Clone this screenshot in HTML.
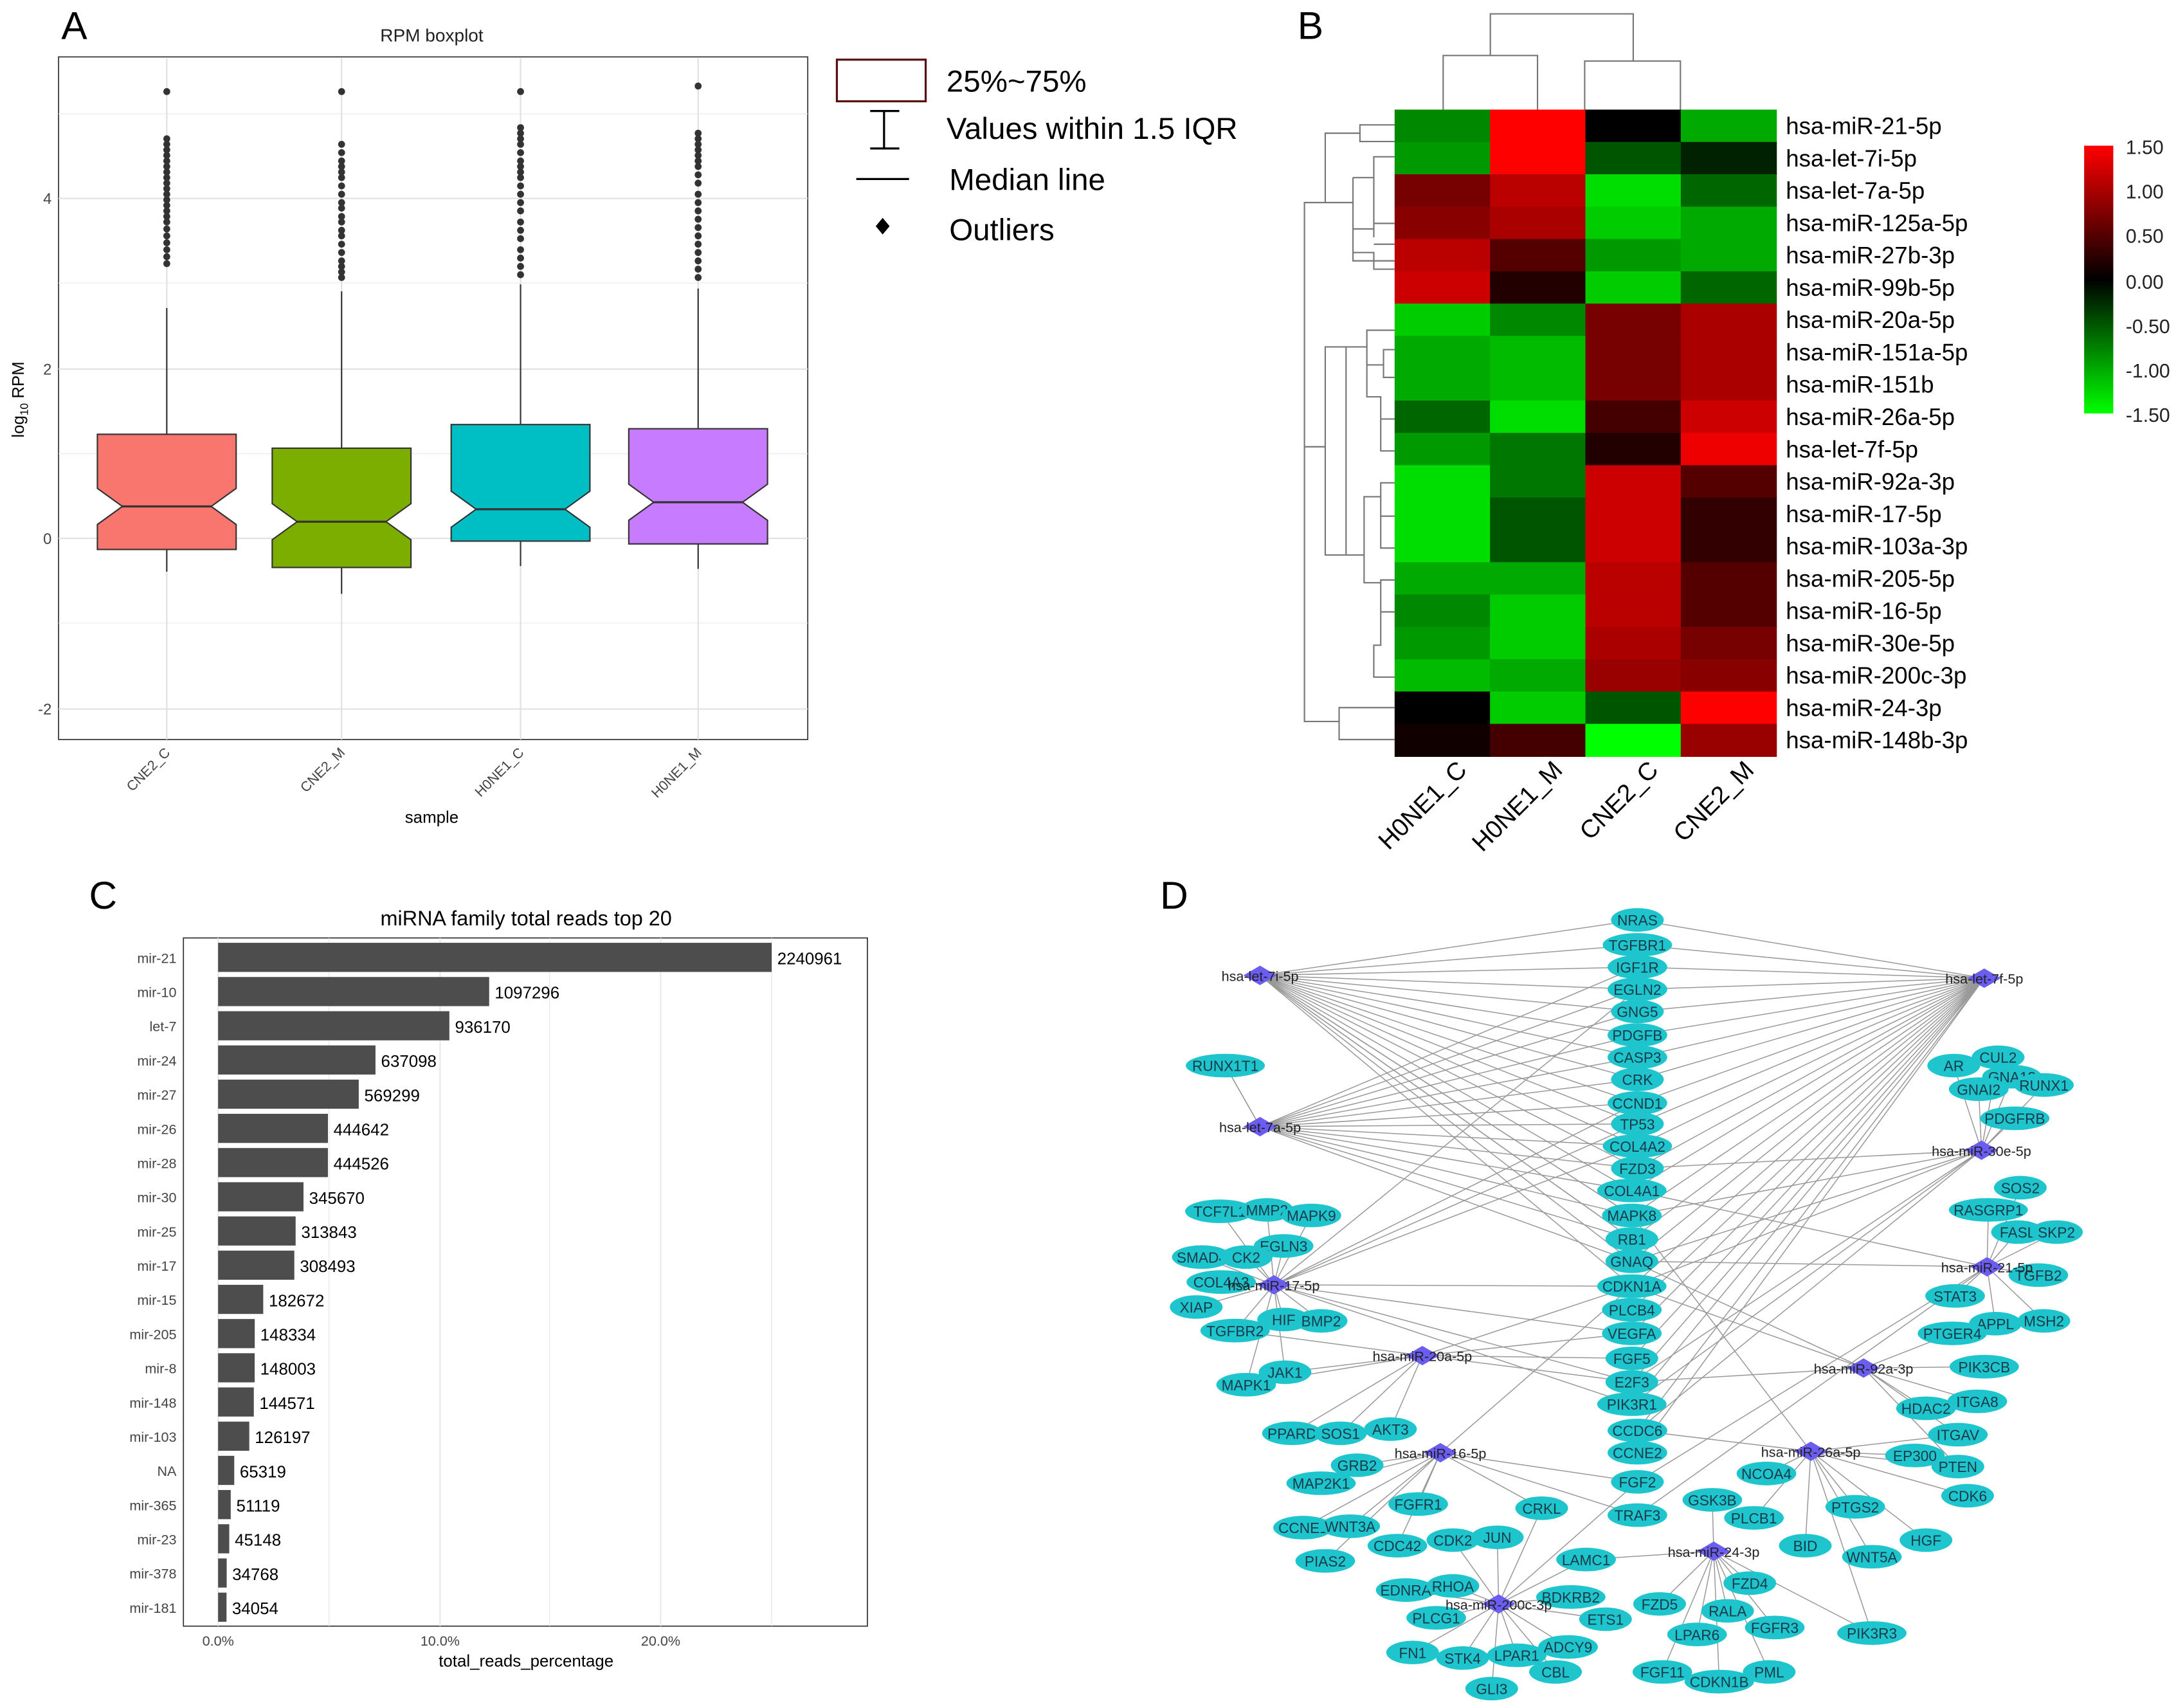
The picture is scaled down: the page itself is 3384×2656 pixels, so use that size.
<!DOCTYPE html>
<html><head><meta charset="utf-8"><style>html,body{margin:0;padding:0;background:#fff}svg{display:block}</style></head>
<body>
<svg id="s" xmlns="http://www.w3.org/2000/svg" width="3384" height="2656" viewBox="0 0 1568 1231" font-family="Liberation Sans, Arial, sans-serif">
<rect width="1568" height="1231" fill="#fff"/>
<g id="A">
<text x="44" y="28" font-size="28">A</text>
<rect x="42" y="41" width="540" height="492" fill="#fff" stroke="#333" stroke-width="0.8"/>
<text x="311" y="30" font-size="13" text-anchor="middle" fill="#222">RPM boxplot</text>
<g stroke="#ebebeb" stroke-width="0.6">
<line x1="42" x2="582" y1="82" y2="82"/><line x1="42" x2="582" y1="204" y2="204"/><line x1="42" x2="582" y1="327" y2="327"/><line x1="42" x2="582" y1="449" y2="449"/>
</g>
<g stroke="#e0e0e0" stroke-width="1">
<line x1="42" x2="582" y1="143" y2="143"/><line x1="42" x2="582" y1="266" y2="266"/><line x1="42" x2="582" y1="388" y2="388"/><line x1="42" x2="582" y1="511" y2="511"/>
<line x1="120" x2="120" y1="42" y2="533"/><line x1="246" x2="246" y1="42" y2="533"/><line x1="375" x2="375" y1="42" y2="533"/><line x1="503" x2="503" y1="42" y2="533"/>
</g>
<g font-size="11" fill="#444" text-anchor="end"><text x="37" y="147">4</text><text x="37" y="270">2</text><text x="37" y="392">0</text><text x="37" y="515">-2</text></g>
<text transform="translate(17,288) rotate(-90)" font-size="12" text-anchor="middle">log<tspan font-size="8" dy="3">10</tspan><tspan dy="-3"> RPM</tspan></text>
<g font-size="10" fill="#444" text-anchor="end">
<text transform="translate(123,543) rotate(-45)">CNE2_C</text><text transform="translate(249,543) rotate(-45)">CNE2_M</text>
<text transform="translate(378,543) rotate(-45)">H0NE1_C</text><text transform="translate(506,543) rotate(-45)">H0NE1_M</text>
</g>
<text x="311" y="593" font-size="12" text-anchor="middle">sample</text>
<g id="boxes"></g>
<g font-size="22">
<rect x="603" y="43" width="64" height="30" fill="none" stroke="#5a1010" stroke-width="1.5"/>
<text x="682" y="66">25%~75%</text>
<path d="M627 80H648M637 80V107M627 107H648" stroke="#000" stroke-width="1.5" fill="none"/>
<text x="682" y="100">Values within 1.5 IQR</text>
<line x1="617" x2="655" y1="129" y2="129" stroke="#000" stroke-width="1.5"/>
<text x="684" y="137">Median line</text>
<path d="M636 157L641 163L636 169L631 163Z" fill="#000"/>
<text x="684" y="173">Outliers</text>
</g>
</g>
<g id="B">
<text x="935" y="28" font-size="28">B</text>
<g id="heat"></g>
<g fill="none" stroke="#777" stroke-width="1">
<path d="M1040 79V40H1108V79M1074 40V10H1177V40M1177 40V44M1142 79V44H1211V79"/>
<path d="M1005 90H980V102H1005M980 96H955V146M955 146H940V322M955 146H975V128M975 128H990V113H1005M990 113V171M975 146V165M975 165H990V124M990 124V161M990 161H1005M975 165V188H1005M975 176V182H990V194H1005M990 176H1005"/>
<path d="M940 322H955V250H970V400H955V250M970 250H985V238H1005M985 238V263H997V252H1005M997 263V272H1005M985 263V286H995V302H1005M995 286V325H1005M970 400H983V358H995V348H1005M995 358V372H1005M995 372V395H1005M983 400V420H995V418H1005M995 420V441H1005M995 441V465H990V488H1005M940 322V520H965V510H1005M965 520V533H1005"/>
</g>
<defs><linearGradient id="cb" x1="0" y1="0" x2="0" y2="1"><stop offset="0" stop-color="#ff0000"/><stop offset="0.5" stop-color="#000"/><stop offset="1" stop-color="#00ff00"/></linearGradient></defs>
<rect x="1502" y="105" width="21" height="193" fill="url(#cb)"/>
<g font-size="14" fill="#222">
<text x="1532" y="111">1.50</text><text x="1532" y="143">1.00</text><text x="1532" y="175">0.50</text><text x="1532" y="208">0.00</text><text x="1532" y="240">-0.50</text><text x="1532" y="272">-1.00</text><text x="1532" y="304">-1.50</text>
</g>
<g font-size="18" text-anchor="end">
<text transform="translate(1058,556) rotate(-45)">H0NE1_C</text><text transform="translate(1127,556) rotate(-45)">H0NE1_M</text>
<text transform="translate(1196,556) rotate(-45)">CNE2_C</text><text transform="translate(1265,556) rotate(-45)">CNE2_M</text>
</g>
</g>
<g id="C">
<text x="64" y="655" font-size="28">C</text>
<text x="379" y="667" font-size="15" text-anchor="middle">miRNA family total reads top 20</text>
<rect x="132" y="676" width="493" height="496" fill="#fff" stroke="#333" stroke-width="0.8"/>
<g stroke="#e4e4e4" stroke-width="0.8"><line x1="157" x2="157" y1="676" y2="1172"/><line x1="317" x2="317" y1="676" y2="1172"/><line x1="476" x2="476" y1="676" y2="1172"/>
<line x1="237" x2="237" y1="676" y2="1172" stroke-width="0.5"/><line x1="396" x2="396" y1="676" y2="1172" stroke-width="0.5"/><line x1="556" x2="556" y1="676" y2="1172" stroke-width="0.5"/></g>
<g id="bars"></g>
<g font-size="10" fill="#444" text-anchor="middle"><text x="157" y="1186">0.0%</text><text x="317" y="1186">10.0%</text><text x="476" y="1186">20.0%</text></g>
<text x="379" y="1201" font-size="12" text-anchor="middle">total_reads_percentage</text>
</g>
<g id="D">
<text x="836" y="655" font-size="28">D</text>
<g id="net"></g>
</g>
</svg>
<script>
var NS="http://www.w3.org/2000/svg";
function el(p,t,a,txt){var e=document.createElementNS(NS,t);for(var k in a)e.setAttribute(k,a[k]);if(txt!=null)e.textContent=txt;p.appendChild(e);return e;}
var bx=document.getElementById('boxes');
var B=[[120,313,396,365,222,412,'#f8766d',[66,100,104,108,112,116,120,124,128,132,136,140,144,148,152,156,160,165,170,175,180,185,190]],
[246,323,409,376,210,428,'#7cae00',[66,104,110,116,120,124,128,134,140,146,150,156,160,166,170,176,182,188,192,196,200]],
[375,306,390,367,205,408,'#00bfc4',[66,92,96,100,104,110,116,120,124,128,134,140,146,152,160,166,172,180,186,192,198]],
[503,309,392,362,208,410,'#c77cff',[62,96,100,104,108,112,116,120,126,132,140,146,152,158,164,170,176,182,188,194,200]]];
B.forEach(function(b){var c=b[0],w=50,n=18,nh=13;
el(bx,'line',{x1:c,x2:c,y1:b[4],y2:b[1],stroke:'#333','stroke-width':1});
el(bx,'line',{x1:c,x2:c,y1:b[2],y2:b[5],stroke:'#333','stroke-width':1});
el(bx,'path',{d:'M'+(c-w)+' '+b[1]+'H'+(c+w)+'V'+(b[3]-nh)+'L'+(c+w-n)+' '+b[3]+'L'+(c+w)+' '+(b[3]+nh)+'V'+b[2]+'H'+(c-w)+'V'+(b[3]+nh)+'L'+(c-w+n)+' '+b[3]+'L'+(c-w)+' '+(b[3]-nh)+'Z',fill:b[6],stroke:'#333','stroke-width':1});
el(bx,'line',{x1:c-w+n,x2:c+w-n,y1:b[3],y2:b[3],stroke:'#333','stroke-width':1.5});
b[7].forEach(function(y){el(bx,'circle',{cx:c,cy:y,r:2.5,fill:'#333'});});});
var H=[['hsa-miR-21-5p',-0.8,1.5,0,-1.0],['hsa-let-7i-5p',-0.9,1.5,-0.5,-0.2],['hsa-let-7a-5p',0.7,1.1,-1.3,-0.6],['hsa-miR-125a-5p',0.8,1.0,-1.2,-1.0],
['hsa-miR-27b-3p',1.1,0.5,-0.9,-1.0],['hsa-miR-99b-5p',1.2,0.2,-1.2,-0.6],['hsa-miR-20a-5p',-1.2,-0.8,0.7,1.0],['hsa-miR-151a-5p',-1.0,-1.1,0.7,1.0],
['hsa-miR-151b',-1.0,-1.1,0.7,1.0],['hsa-miR-26a-5p',-0.6,-1.3,0.4,1.2],['hsa-let-7f-5p',-0.9,-0.7,0.2,1.4],['hsa-miR-92a-3p',-1.3,-0.7,1.2,0.5],
['hsa-miR-17-5p',-1.3,-0.5,1.2,0.3],['hsa-miR-103a-3p',-1.3,-0.5,1.2,0.3],['hsa-miR-205-5p',-1.0,-1.0,1.1,0.5],['hsa-miR-16-5p',-0.8,-1.2,1.1,0.5],
['hsa-miR-30e-5p',-0.9,-1.2,1.0,0.7],['hsa-miR-200c-3p',-1.1,-1.0,0.9,0.8],['hsa-miR-24-3p',0,-1.2,-0.5,1.5],['hsa-miR-148b-3p',0.1,0.4,-1.5,0.9]];
var hg=document.getElementById('heat');var rh=466/20,cw=275/4;
function col(v){var t=Math.min(1,Math.abs(v)/1.5),c=Math.round(255*t);return v>0?'rgb('+c+',0,0)':'rgb(0,'+c+',0)';}
H.forEach(function(r,i){var y=79+i*rh;for(var j=0;j<4;j++)el(hg,'rect',{x:1005+j*cw,y:y,width:cw+0.5,height:rh+0.5,fill:col(r[j+1])});
el(hg,'text',{x:1287,y:y+rh/2+6,'font-size':17},r[0]);});
var R=[['mir-21',2240961],['mir-10',1097296],['let-7',936170],['mir-24',637098],['mir-27',569299],['mir-26',444642],['mir-28',444526],['mir-30',345670],['mir-25',313843],['mir-17',308493],['mir-15',182672],['mir-205',148334],['mir-8',148003],['mir-148',144571],['mir-103',126197],['NA',65319],['mir-365',51119],['mir-23',45148],['mir-378',34768],['mir-181',34054]];
var bg=document.getElementById('bars');
R.forEach(function(r,i){var yc=690+i*24.65,w=r[1]*399/2240961;
el(bg,'rect',{x:157,y:yc-10.5,width:w,height:21,fill:'#4d4d4d'});
el(bg,'text',{x:161+w,y:yc+5,'font-size':12},String(r[1]));
el(bg,'text',{x:127,y:yc+4,'font-size':10,fill:'#444','text-anchor':'end'},r[0]);});
var C=['NRAS','TGFBR1','IGF1R','EGLN2','GNG5','PDGFB','CASP3','CRK','CCND1','TP53','COL4A2','FZD3','COL4A1','MAPK8','RB1','GNAQ','CDKN1A','PLCB4','VEGFA','FGF5','E2F3','PIK3R1','CCDC6','CCNE2','FGF2','TRAF3'];
var CY=[663,681,697,713,729,746,762,778,795,810,826,842,858,876,893,909,927,944,961,979,996,1012,1031,1047,1068,1092];
var N={};C.forEach(function(n,i){N[n]=[1180-(i>11&&i<22?4:0),CY[i]];});
var O={RUNX1T1:[883,768],AR:[1408,768],CUL2:[1440,762],GNA13:[1450,776],RUNX1:[1473,782],GNAI2:[1426,785],PDGFRB:[1452,806],TCF7L1:[879,873],MMP2:[913,872],MAPK9:[945,876],EGLN3:[925,898],SMAD4:[866,906],CK2:[898,906],COL4A3:[880,924],XIAP:[862,942],HIF:[925,951],BMP2:[952,952],TGFBR2:[890,959],JAK1:[926,989],MAPK1:[898,998],SOS2:[1456,856],RASGRP1:[1433,872],FASL:[1454,888],SKP2:[1482,888],TGFB2:[1469,919],STAT3:[1409,934],APPL:[1438,954],MSH2:[1473,952],PTGER4:[1407,961],PIK3CB:[1430,985],PPARD:[931,1033],SOS1:[966,1033],AKT3:[1002,1030],GRB2:[978,1056],MAP2K1:[952,1069],FGFR1:[1022,1084],CCNE1:[939,1101],WNT3A:[973,1100],CDC42:[1007,1114],PIAS2:[955,1125],CRKL:[1111,1087],CDK2:[1047,1110],JUN:[1079,1108],LAMC1:[1143,1124],EDNRA:[1013,1146],RHOA:[1047,1143],BDKRB2:[1132,1151],PLCG1:[1035,1166],ETS1:[1157,1167],FN1:[1018,1191],STK4:[1054,1195],LPAR1:[1093,1193],ADCY9:[1130,1187],CBL:[1121,1205],GLI3:[1075,1217],NCOA4:[1273,1062],GSK3B:[1234,1081],PLCB1:[1264,1094],BID:[1301,1114],PTGS2:[1337,1086],WNT5A:[1349,1122],HGF:[1388,1110],HDAC2:[1388,1015],ITGA8:[1425,1010],ITGAV:[1411,1034],EP300:[1380,1049],PTEN:[1411,1057],CDK6:[1418,1078],FZD5:[1196,1156],FZD4:[1261,1141],RALA:[1245,1161],FGFR3:[1279,1173],LPAR6:[1223,1178],PIK3R3:[1349,1177],FGF11:[1198,1205],CDKN1B:[1239,1212],PML:[1275,1205]};
for(var k in O)N[k]=O[k];
var HB={'hsa-let-7i-5p':[908,703],'hsa-let-7f-5p':[1430,705],'hsa-let-7a-5p':[908,812],'hsa-miR-30e-5p':[1428,829],'hsa-miR-17-5p':[918,926],'hsa-miR-21-5p':[1432,913],'hsa-miR-20a-5p':[1025,977],'hsa-miR-92a-3p':[1343,986],'hsa-miR-16-5p':[1038,1047],'hsa-miR-26a-5p':[1305,1046],'hsa-miR-24-3p':[1235,1118],'hsa-miR-200c-3p':[1080,1156]};
var E={'hsa-let-7i-5p':C.slice(0,17).concat(['RB1','MAPK8']),'hsa-let-7f-5p':C.slice(0,24),'hsa-let-7a-5p':C.slice(2,16).concat(['RUNX1T1']),
'hsa-miR-30e-5p':['FZD3','MAPK8','GNAQ','CDKN1A','PIK3R1','E2F3','CCDC6','AR','CUL2','GNA13','RUNX1','GNAI2','PDGFRB'],
'hsa-miR-17-5p':['EGLN2','CCND1','TP53','COL4A2','CDKN1A','VEGFA','E2F3','PIK3R1','TCF7L1','MMP2','MAPK9','EGLN3','SMAD4','CK2','COL4A3','XIAP','HIF','BMP2','TGFBR2','JAK1','MAPK1'],
'hsa-miR-21-5p':['GNAQ','COL4A1','FGF2','TRAF3','SOS2','RASGRP1','FASL','SKP2','TGFB2','STAT3','MSH2','APPL'],
'hsa-miR-20a-5p':['FGF5','CDKN1A','VEGFA','E2F3','MAPK1','JAK1','TGFBR2','PPARD','AKT3','SOS1'],
'hsa-miR-92a-3p':['E2F3','GNAQ','CDKN1A','PTGER4','PIK3CB','HDAC2','ITGA8','ITGAV','PTEN'],
'hsa-miR-16-5p':['CDKN1A','FGF2','TRAF3','GRB2','MAP2K1','FGFR1','CCNE1','WNT3A','CDC42','PIAS2','CRKL'],
'hsa-miR-26a-5p':['CCDC6','MAPK8','ITGAV','NCOA4','PLCB1','BID','PTGS2','WNT5A','PIK3R3','EP300','PTEN','CDK6','HGF'],
'hsa-miR-24-3p':['LAMC1','GSK3B','FZD4','FZD5','RALA','FGFR3','LPAR6','FGF11','CDKN1B','PML','PIK3R3'],
'hsa-miR-200c-3p':['CRKL','FGF2','CDK2','JUN','LAMC1','EDNRA','RHOA','BDKRB2','PLCG1','ETS1','FN1','STK4','LPAR1','ADCY9','CBL','GLI3']};
var ng=document.getElementById('net');
for(var h in E){E[h].forEach(function(t){if(!N[t])return;el(ng,'line',{x1:HB[h][0],y1:HB[h][1],x2:N[t][0],y2:N[t][1],stroke:'#999','stroke-width':0.7});});}
el(ng,'line',{x1:908,y1:812,x2:883,y2:768,stroke:'#999','stroke-width':0.7});
for(var n in N){var p=N[n],w=Math.max(38,n.length*7+8);el(ng,'ellipse',{cx:p[0],cy:p[1],rx:w/2,ry:8.5,fill:'#1fc5cc'});
el(ng,'text',{x:p[0],y:p[1]+4,'font-size':10.5,'text-anchor':'middle',fill:'#1a3a4a'},n);}
for(var h in HB){var p=HB[h];el(ng,'path',{d:'M'+(p[0]-12)+' '+p[1]+'L'+p[0]+' '+(p[1]-7)+'L'+(p[0]+12)+' '+p[1]+'L'+p[0]+' '+(p[1]+7)+'Z',fill:'#6b5cf2'});
el(ng,'text',{x:p[0],y:p[1]+4,'font-size':10,'text-anchor':'middle',fill:'#222'},h);}
</script>
</body></html>
